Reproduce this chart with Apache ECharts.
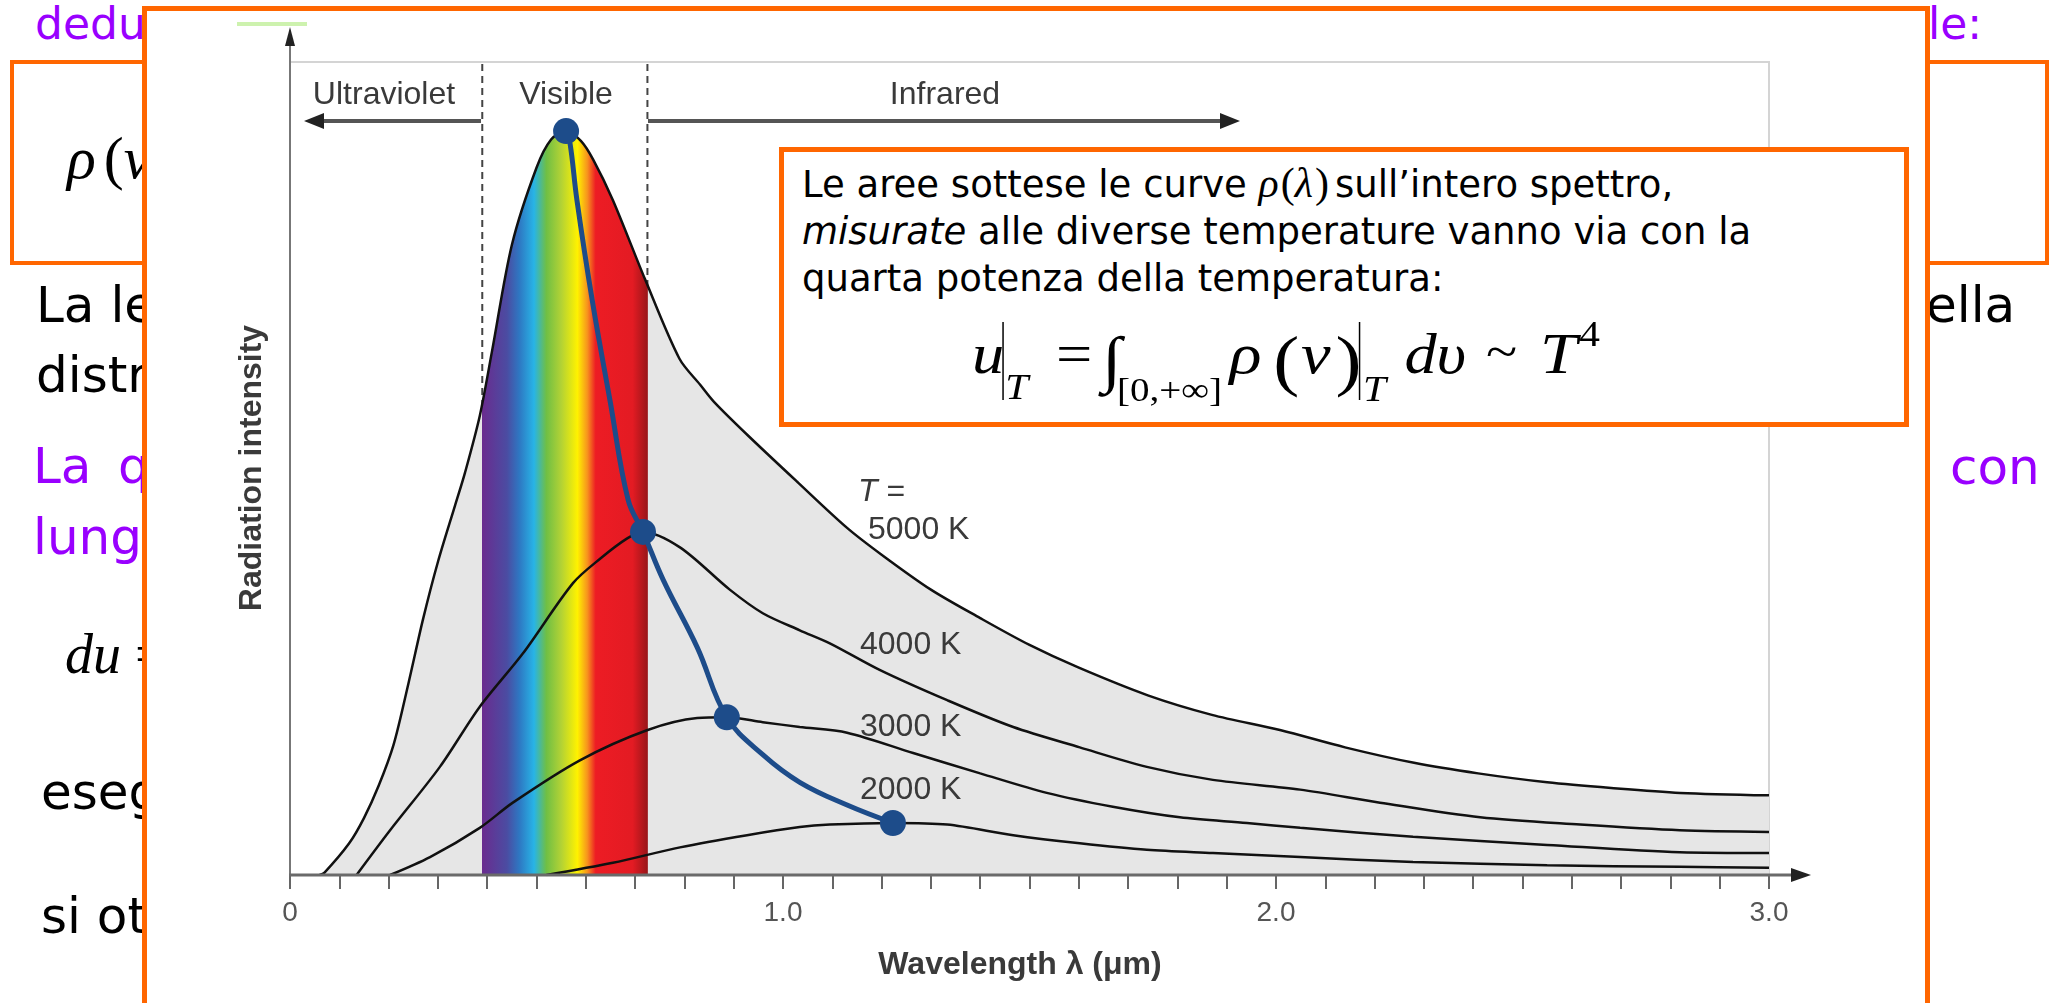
<!DOCTYPE html>
<html>
<head>
<meta charset="utf-8">
<script src="https://cdn.jsdelivr.net/npm/echarts@6/dist/echarts.min.js"></script>
<style>
  html, body { margin: 0; padding: 0; background: #fff; }
  #page { position: relative; width: 2051px; height: 1003px; overflow: hidden; }
  #slide, #chart, #note { position: absolute; left: 0; top: 0; width: 2051px; height: 1003px; }
  #chart { z-index: 2; }
  #note { z-index: 3; }
  .sans { font-family: 'DejaVu Sans'; }
  .serif { font-family: 'Liberation Serif'; }
</style>
</head>
<body>
<div id="page">
  <!-- slide behind the picture -->
  <svg id="slide" width="2051" height="1003">
    <g class="sans">
      <text x="35" y="39" font-size="44" fill="#9900ff">dedu</text>
      <text x="1928" y="39" font-size="44" fill="#9900ff">le:</text>
      <rect x="12" y="62" width="2035" height="201" fill="none" stroke="#ff6600" stroke-width="4"/>
      <text x="36" y="322" font-size="50" fill="#000">La le</text>
      <text x="1926" y="322" font-size="50" fill="#000">ella</text>
      <text x="36" y="392" font-size="50" fill="#000">distr</text>
      <text x="33" y="483" font-size="50" fill="#9900ff">La</text>
      <text x="118" y="483" font-size="50" fill="#9900ff">q</text>
      <text x="1950" y="484" font-size="50" fill="#9900ff">con</text>
      <text x="33" y="554" font-size="50" fill="#9900ff">lungh</text>
      <text x="41" y="809" font-size="50" fill="#000">eseg</text>
      <text x="41" y="933" font-size="50" fill="#000">si ot</text>
    </g>
    <g class="serif" fill="#000">
      <text x="67" y="178" font-size="60"><tspan font-style="italic">ρ</tspan><tspan dx="8">(</tspan><tspan font-style="italic">ν</tspan></text>
      <text x="65" y="673" font-size="56"><tspan font-style="italic">du</tspan> =</text>
    </g>
    <rect x="144.5" y="8.5" width="1783" height="1100" fill="#fff" stroke="#ff6600" stroke-width="5"/>
  </svg>

  <div id="chart"></div>

  <!-- note box over the picture -->
  <svg id="note" width="2051" height="1003">
    <rect x="781.5" y="149.5" width="1125" height="275" fill="#fff" stroke="#ff6600" stroke-width="5"/>
    <g class="sans" font-size="37" fill="#000">
      <text x="802" y="197">Le aree sottese le curve <tspan class="serif" font-size="42" font-style="italic">ρ</tspan><tspan class="serif" font-size="42" dx="2">(</tspan><tspan class="serif" font-size="42" font-style="italic">λ</tspan><tspan class="serif" font-size="42" dx="2">)</tspan><tspan dx="6">sull’intero spettro,</tspan></text>
      <text x="802" y="244"><tspan font-style="italic">misurate</tspan> alle diverse temperature vanno via con la</text>
      <text x="802" y="291">quarta potenza della temperatura:</text>
    </g>
    <g class="serif" fill="#000" transform="translate(972,0) scale(1.15,1)">
      <text x="0" y="373" font-size="56" font-style="italic">u</text>
      <line x1="27" y1="322" x2="27" y2="400" stroke="#000" stroke-width="1.3"/>
      <text x="29" y="399" font-size="36" font-style="italic">T</text>
      <text x="73" y="373" font-size="56">=</text>
      <text x="113" y="380" font-size="62">∫</text>
      <text x="126" y="401" font-size="34">[0,+∞]</text>
      <text x="224" y="373" font-size="58" font-style="italic">ρ</text>
      <text x="262" y="383" font-size="68">(</text>
      <text x="286" y="373" font-size="58" font-style="italic">ν</text>
      <text x="316" y="383" font-size="68">)</text>
      <line x1="337" y1="322" x2="337" y2="400" stroke="#000" stroke-width="1.3"/>
      <text x="340" y="401" font-size="36" font-style="italic">T</text>
      <text x="376" y="373" font-size="56" font-style="italic">dυ</text>
      <text x="447" y="368" font-size="50">~</text>
      <text x="494" y="373" font-size="58" font-style="italic">T</text>
      <text x="528" y="346" font-size="36">4</text>
    </g>
  </svg>
</div>

<script>
// wavelength (µm) / intensity (arbitrary units, 0..100)
const curve5000 = [
  [0.06, 0], [0.07, 0.3], [0.12, 3.9], [0.15, 7], [0.18, 11], [0.21, 16], [0.24, 23.5],
  [0.27, 31.5], [0.30, 38.5], [0.335, 45.5], [0.355, 49.5], [0.385, 56.5], [0.41, 64.5],
  [0.45, 77.5], [0.50, 87], [0.53, 90.5], [0.56, 91.5], [0.59, 90.3], [0.615, 88],
  [0.655, 83], [0.72, 73.3], [0.79, 63.5], [0.832, 60.3], [0.86, 58.2], [0.93, 54],
  [1.03, 48.3], [1.13, 42.7], [1.20, 39.4], [1.30, 35.1], [1.40, 31.6], [1.50, 28.3],
  [1.60, 25.5], [1.74, 22.1], [1.87, 19.7], [2.01, 17.8], [2.14, 15.7], [2.28, 13.8],
  [2.41, 12.5], [2.55, 11.4], [2.68, 10.7], [2.82, 10.1], [3.0, 9.8]
]
const curve4000 = [
  [0.135, 0], [0.203, 5.5], [0.304, 13.3], [0.385, 20.7], [0.473, 27.3], [0.574, 35.9],
  [0.629, 38.9], [0.684, 41.4], [0.716, 42.2], [0.791, 40.3], [0.892, 35.1], [0.959, 32.2],
  [1.034, 30.1], [1.095, 28.5], [1.197, 25.2], [1.333, 21.5], [1.467, 18.2], [1.602, 15.7],
  [1.738, 13.3], [1.872, 11.7], [2.049, 10.5], [2.211, 8.9], [2.414, 7.1], [2.617, 6.2],
  [2.819, 5.5], [3.0, 5.3]
]
const curve3000 = [
  [0.203, 0], [0.284, 2.2], [0.385, 5.8], [0.452, 8.9], [0.588, 14.1], [0.724, 17.8],
  [0.826, 19.3], [0.886, 19.4], [0.959, 18.8], [1.034, 18.2], [1.13, 17.5], [1.264, 15],
  [1.40, 12.5], [1.535, 10.1], [1.669, 8.4], [1.805, 7.1], [1.941, 6.4], [2.049, 5.8],
  [2.278, 4.7], [2.55, 3.7], [2.819, 2.8], [3.0, 2.7]
]
const curve2000 = [
  [0.52, 0], [0.655, 1.5], [0.791, 3.4], [0.927, 4.9], [1.034, 5.9], [1.095, 6.2],
  [1.223, 6.4], [1.333, 6.2], [1.467, 4.9], [1.602, 3.9], [1.738, 3.1], [1.872, 2.7],
  [2.049, 2.2], [2.278, 1.6], [2.55, 1.2], [2.819, 1.0], [3.0, 0.9]
]
// Wien displacement line through the maxima
const wienLine = [
  [0.56, 91.5], [0.568, 90], [0.582, 83], [0.613, 70.7], [0.649, 58.4], [0.686, 46.1],
  [0.716, 42.2], [0.757, 36.3], [0.826, 28], [0.886, 19.4], [0.959, 14.8],
  [1.034, 11.4], [1.13, 8.6], [1.223, 6.4]
]
const peaks = [[0.56, 91.5], [0.716, 42.2], [0.886, 19.4], [1.223, 6.4]]
const visibleBand = [0.39, 0.725]
const xTickValues = [0, 1, 2, 3]
const xTickLabels = ['0', '1.0', '2.0', '3.0']
const tempLabels = ['5000 K', '4000 K', '3000 K', '2000 K']

// spectrum colours across the visible band (wavelength, colour)
const spectrum = [
  [0.39, '#6a2c8f'], [0.44, '#4b4ca2'], [0.465, '#2e77c2'], [0.495, '#28b4e6'],
  [0.52, '#6fbf44'], [0.55, '#b2d235'], [0.583, '#fff200'], [0.603, '#f7941d'],
  [0.62, '#ed1c24'], [0.695, '#e31b23'], [0.725, '#9a1519']
]
const GREY = '#e6e6e6'
const LABEL = '#3a3a3a'
const FONT = '"Liberation Sans"'
const BLUE = '#1d4c8a'

const myChart = echarts.init(document.getElementById('chart'))

const curveLine = { color: '#111', width: 2.5 }
const txt = (text, x, y, align) => ({
  type: 'text', x: x, y: y, z: 20, silent: true,
  style: { text: text, font: '32px ' + FONT, fill: LABEL, align: align || 'left', verticalAlign: 'middle' }
})
const seg = (x1, y1, x2, y2, color, width) => ({
  type: 'line', z: 10, silent: true, shape: { x1, y1, x2, y2 }, style: { stroke: color, lineWidth: width }
})
const head = (points) => ({ type: 'polygon', z: 10, silent: true, shape: { points }, style: { fill: '#222' } })

let option = {
  animation: false,
  backgroundColor: 'transparent',
  grid: { left: 290, right: 282, top: 62, bottom: 128, show: true, borderColor: '#d4d4d4', borderWidth: 2 },
  xAxis: {
    type: 'value', min: 0, max: 3, interval: 0.1,
    axisLine: { show: false },
    axisTick: { show: true, length: 14, lineStyle: { color: '#666', width: 2 } },
    axisLabel: {
      margin: 24, fontSize: 28, color: '#555', fontFamily: 'Liberation Sans',
      formatter: (v) => {
        const i = xTickValues.findIndex(t => Math.abs(t - v) < 1e-6)
        return i < 0 ? '' : xTickLabels[i]
      }
    },
    splitLine: { show: false }
  },
  yAxis: {
    type: 'value', min: 0, max: 100,
    axisLine: { show: false }, axisTick: { show: false },
    axisLabel: { show: false }, splitLine: { show: false }
  },
  series: [
    {
      type: 'line', silent: true, symbol: 'none', z: 1,
      data: [[visibleBand[0], 0], [visibleBand[0], 100]],
      lineStyle: { color: '#444', width: 2, type: [7, 5] }
    },
    {
      type: 'line', silent: true, symbol: 'none', z: 1,
      data: [[visibleBand[1], 0], [visibleBand[1], 100]],
      lineStyle: { color: '#444', width: 2, type: [7, 5] }
    },
    {
      id: 't5000', name: tempLabels[0], type: 'line', data: curve5000, smooth: 0.3,
      symbol: 'none', silent: true, z: 2, lineStyle: curveLine,
      areaStyle: { color: GREY, opacity: 1 }
    },
    { name: tempLabels[1], type: 'line', data: curve4000, smooth: 0.3, symbol: 'none', silent: true, z: 3, lineStyle: curveLine },
    { name: tempLabels[2], type: 'line', data: curve3000, smooth: 0.3, symbol: 'none', silent: true, z: 3, lineStyle: curveLine },
    { name: tempLabels[3], type: 'line', data: curve2000, smooth: 0.3, symbol: 'none', silent: true, z: 3, lineStyle: curveLine },
    {
      type: 'line', data: wienLine, smooth: 0.4, symbol: 'none', silent: true, z: 4,
      lineStyle: { color: BLUE, width: 5 }
    },
    {
      type: 'scatter', data: peaks, symbolSize: 26, silent: true, z: 5,
      itemStyle: { color: BLUE, opacity: 1 }
    }
  ],
  graphic: [
    // axes with arrows
    seg(290, 876, 290, 42, '#777', 2),
    head([[290, 27], [285, 46], [295, 46]]),
    seg(289, 875, 1795, 875, '#6a6a6a', 3),
    head([[1811, 875], [1791, 868], [1791, 882]]),
    { type: 'rect', z: 10, silent: true, shape: { x: 237, y: 22, width: 70, height: 4 }, style: { fill: '#cdf2ae' } },
    // region arrows
    seg(481, 121, 318, 121, '#555', 4),
    head([[304, 121], [324, 113], [324, 129]]),
    seg(648, 121, 1226, 121, '#555', 4),
    head([[1240, 121], [1220, 113], [1220, 129]]),
    txt('Ultraviolet', 384, 95, 'center'),
    txt('Visible', 566, 95, 'center'),
    txt('Infrared', 945, 95, 'center'),
    {
      type: 'text', x: 858, y: 492, z: 20, silent: true,
      style: { text: '{i|T} =', font: '32px ' + FONT, fill: LABEL, verticalAlign: 'middle', rich: { i: { fontStyle: 'italic', fontSize: 32, fontFamily: 'Liberation Sans', fill: LABEL } } }
    },
    txt(tempLabels[0], 868, 530),
    txt(tempLabels[1], 860, 645),
    txt(tempLabels[2], 860, 727),
    txt(tempLabels[3], 860, 790),
    {
      type: 'text', x: 1020, y: 965, z: 20, silent: true,
      style: { text: 'Wavelength λ (μm)', font: 'bold 32px ' + FONT, fill: LABEL, align: 'center', verticalAlign: 'middle' }
    },
    {
      type: 'text', x: 252, y: 468, z: 20, rotation: Math.PI / 2, silent: true,
      style: { text: 'Radiation intensity', font: 'bold 32px ' + FONT, fill: LABEL, align: 'center', verticalAlign: 'middle' }
    }
  ]
}
myChart.setOption(option)

// rainbow band under the 5000 K curve, placed with the x axis scale
const x0 = myChart.convertToPixel({ xAxisIndex: 0 }, 0)
const x3 = myChart.convertToPixel({ xAxisIndex: 0 }, 3)
const stops = [{ offset: 0, color: GREY }, { offset: (visibleBand[0] - 0.001) / 3, color: GREY }]
spectrum.forEach(s => stops.push({ offset: s[0] / 3, color: s[1] }))
stops.push({ offset: (visibleBand[1] + 0.001) / 3, color: GREY }, { offset: 1, color: GREY })
myChart.setOption({
  series: [{ id: 't5000', areaStyle: { color: new echarts.graphic.LinearGradient(x0, 0, x3, 0, stops, true), opacity: 1 } }]
})
</script>
</body>
</html>
